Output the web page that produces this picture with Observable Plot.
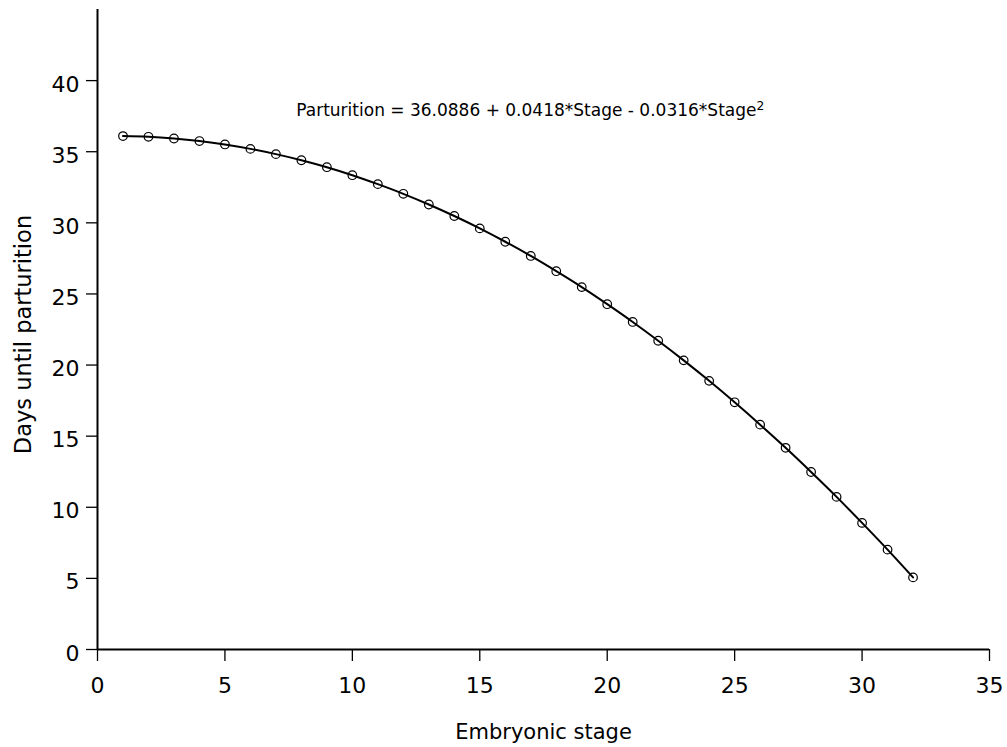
<!DOCTYPE html>
<html>
<head>
<meta charset="utf-8">
<script src="https://cdn.jsdelivr.net/npm/d3@7"></script>
<script src="https://cdn.jsdelivr.net/npm/@observablehq/plot@0.6"></script>
<style>
  html, body { margin: 0; padding: 0; background: #fff; }
</style>
</head>
<body>
<div id="chart"></div>
<script>
// Embryonic stage (x) and days until parturition (y)
const stages = [1, 2, 3, 4, 5, 6, 7, 8, 9, 10, 11, 12, 13, 14, 15, 16,
                17, 18, 19, 20, 21, 22, 23, 24, 25, 26, 27, 28, 29, 30, 31, 32];
const days = [36.10, 36.05, 35.93, 35.75, 35.51, 35.20, 34.83, 34.40, 33.91, 33.35, 32.72, 32.04,
              31.29, 30.48, 29.61, 28.67, 27.67, 26.60, 25.48, 24.28, 23.03, 21.71, 20.33, 18.89,
              17.38, 15.81, 14.18, 12.48, 10.73, 8.90, 7.02, 5.07];
const xTicks = [0, 5, 10, 15, 20, 25, 30, 35];
const yTicks = [0, 5, 10, 15, 20, 25, 30, 35, 40];
const equationText = ["Parturition = 36.0886 + 0.0418*Stage - 0.0316*Stage"];
const equationSup = ["2"];
const equationX = [7.8];
const equationY = [37.9];

const data = stages.map((s, i) => ({stage: s, days: days[i]}));
const eq = equationText.map((t, i) => ({text: t, x: equationX[i], y: equationY[i]}));

const chart = Plot.plot({
  width: 1007,
  height: 747,
  marginLeft: 97,
  marginRight: 18,
  marginTop: 9,
  marginBottom: 98,
  style: {fontFamily: "'DejaVu Sans', 'Liberation Sans', Arial, sans-serif", fontSize: "22px", color: "#000", background: "#fff"},
  x: {domain: [0, 35]},
  y: {domain: [0, 45]},
  marks: [
    // y tick marks (no labels)
    Plot.axisY({ticks: yTicks, tickSize: 11, tickFormat: () => "", label: null, strokeWidth: 1.3}),
    // y tick labels, sitting slightly below their ticks as in the original
    Plot.axisY({ticks: yTicks, tickSize: 0, tickPadding: 18, fontSize: 22, dy: 4, label: null}),
    Plot.axisX({ticks: xTicks, tickSize: 12, tickPadding: 16, fontSize: 22, label: null, strokeWidth: 1.3}),
    Plot.ruleX([0], {stroke: "#000", strokeWidth: 2}),
    Plot.ruleY([0], {x1: 0, x2: 35, stroke: "#000", strokeWidth: 2}),
    Plot.line(data, {x: "stage", y: "days", curve: "natural", stroke: "#000", strokeWidth: 2}),
    Plot.dot(data, {x: "stage", y: "days", r: 4.3, stroke: "#000", fill: "none", strokeWidth: 1.2}),
    Plot.text(eq, {x: "x", y: "y", text: "text", textAnchor: "start", fontSize: 17, fill: "#000"}),
    Plot.text(["Embryonic stage"], {frameAnchor: "bottom", dy: 89, lineAnchor: "bottom", fontSize: 21, fill: "#000"}),
    Plot.text(["Days until parturition"], {frameAnchor: "left", textAnchor: "middle", dx: -74, dy: 5, rotate: -90, fontSize: 22.5, fill: "#000"})
  ]
});
// superscript exponent on the equation
d3.select(chart).selectAll("text")
  .filter(function() { return this.textContent === equationText[0]; })
  .append("tspan")
  .attr("dy", "-0.45em")
  .attr("font-size", "0.72em")
  .text(equationSup[0]);
document.getElementById("chart").appendChild(chart);
</script>
</body>
</html>
